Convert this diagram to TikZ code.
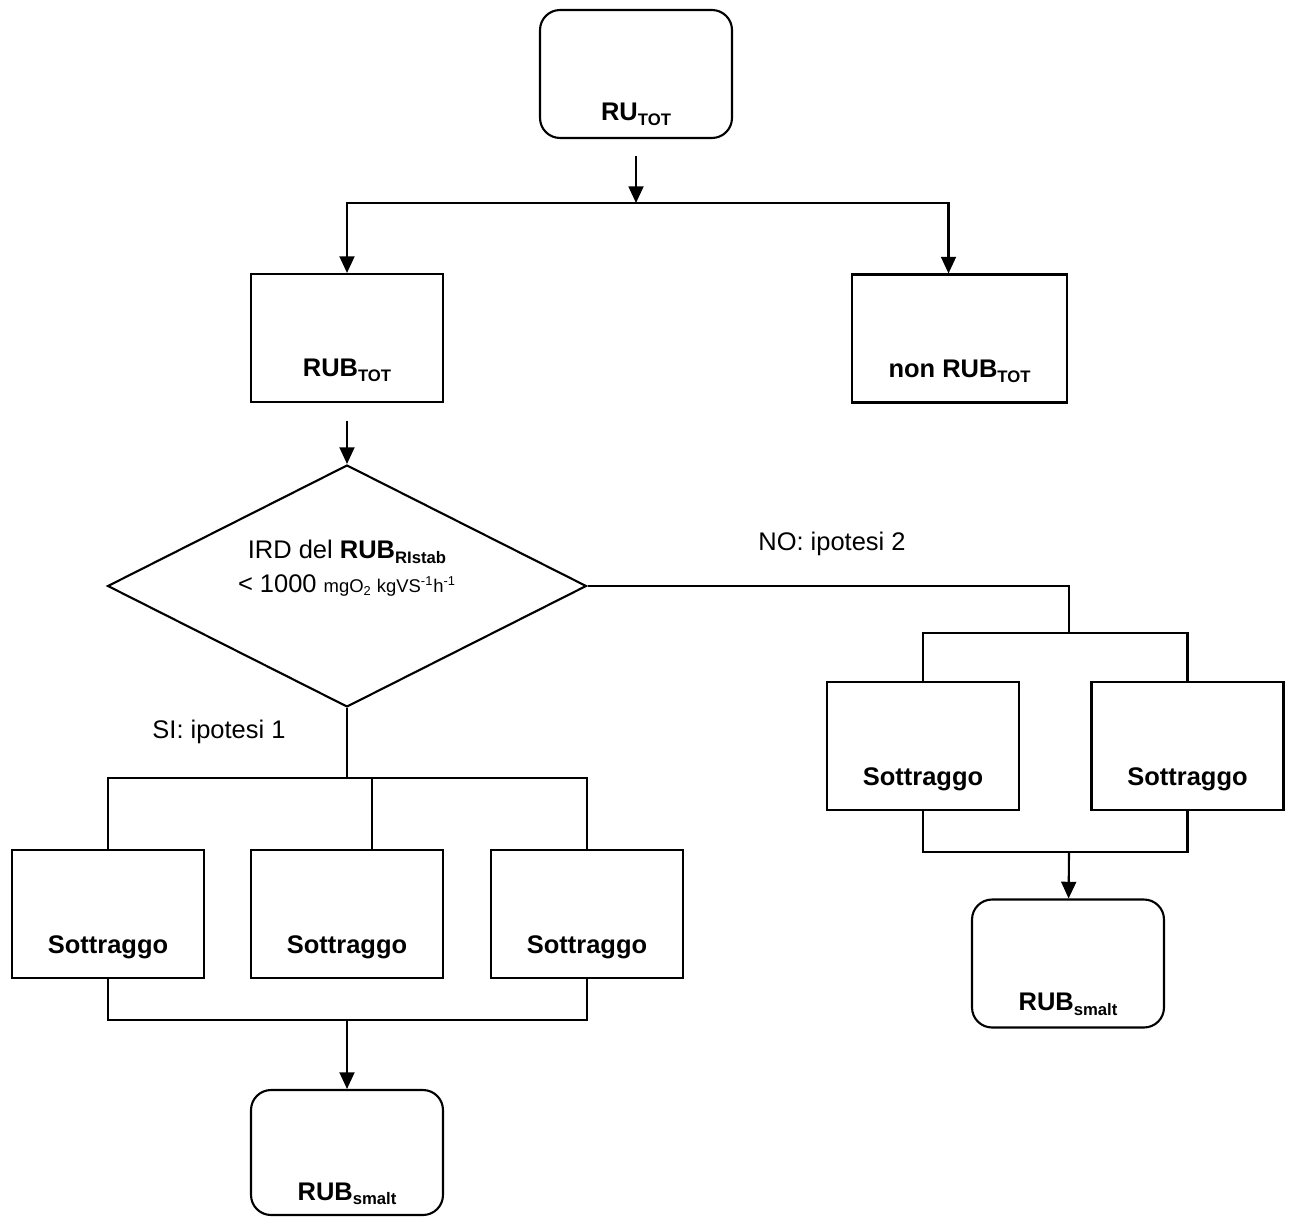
\documentclass[tikz,border=0pt]{standalone}
\usepackage{fontspec}
\setmainfont{Liberation Sans}
\usetikzlibrary{shapes.geometric,arrows.meta,calc}

\newcommand{\lowsub}[1]{\raisebox{-0.35ex}{\fontsize{9.5}{11}\selectfont #1}}

\begin{document}
\begin{tikzpicture}[x=0.02cm, y=-0.02cm, line width=1.2pt]
    \tikzstyle{box}=[draw, rectangle, inner sep=0pt, minimum width=3.84cm, text depth=0.5cm, text height=2.06cm, font=\fontsize{14.5}{17}\selectfont\bfseries]
    \tikzstyle{rbox}=[box, rounded corners=0.4cm, text depth=0.34cm, text height=2.22cm]
    \tikzstyle{arrow}=[-{Triangle[length=9.5pt, width=8.5pt]}]
    \tikzstyle{choice}=[font=\fontsize{14.5}{17}\selectfont]

    \useasboundingbox (0,0) rectangle (1290,1216);

    % Start
    \node[rbox] (rutot) at (636,74) {RU\lowsub{TOT}};
    \coordinate (s1) at (636,203);

    % First split
    \node[box] (rubtot) at (347,338) {RUB\lowsub{TOT}};
    \node[box, minimum width=4.3cm] (nonrub) at (959.5,338.5) {non RUB\lowsub{TOT}};

    % Decision
    \node[draw, diamond, inner sep=0pt, minimum width=9.58cm, minimum height=4.84cm] (ird) at (347,586) {};
    \node[align=center, font=\fontsize{14.5}{19.3}\selectfont] (irdtext) at (347,568)
        {IRD del \textbf{RUB\lowsub{RIstab}}\\ < 1000 {\fontsize{10.5}{12}\selectfont mgO\textsubscript{2} kgVS\textsuperscript{-1}h\textsuperscript{-1}}};

    % Labels
    \node[choice] (no) at (832,544) {NO: ipotesi 2};
    \node[choice] (si) at (219,732) {SI: ipotesi 1};

    % Ipotesi 1
    \coordinate (s2) at (347,778);
    \node[box] (sott1) at (108,914) {Sottraggo};
    \node[box] (sott2) at (347,914) {Sottraggo};
    \node[box] (sott3) at (587,914) {Sottraggo};
    \coordinate (m2) at ($(sott2.north)+(25,0)$);
    \coordinate (j1) at (347,1020);
    \node[rbox, text depth=0.3cm, text height=2.2cm] (rubs1) at (347,1152.5) {RUB\lowsub{smalt}};

    % Ipotesi 2
    \coordinate (s3) at (1069,633);
    \node[box] (sott4) at (923,746) {Sottraggo};
    \node[box] (sott5) at (1187.5,746) {Sottraggo};
    \coordinate (j2) at (1069,852);
    \node[rbox] (rubs2) at (1068,963.5) {RUB\lowsub{smalt}};

    % Connections
    \draw[arrow] (rutot.south) ++(0,17) -- (s1);
    \draw[arrow] (s1) -| (rubtot);
    \draw[arrow] (s1) -| ($(nonrub.north)+(-11,0)$);
    \draw[arrow] (rubtot.south) ++(0,18) -- (ird.north);

    \draw (ird.south) -- (s2);
    \draw (sott1) |- (s2) -| (sott3);
    \draw (m2) -- (m2 |- s2);
    \draw (sott1) |- (j1) -| (sott3);
    \draw[arrow] (j1) -- (rubs1);

    \draw (ird.east) -| (s3);
    \draw (sott4) |- (s3) -| (sott5);
    \draw (sott4) |- (j2) -| (sott5);
    \draw[arrow] (j2) -- (rubs2);
\end{tikzpicture}
\end{document}
